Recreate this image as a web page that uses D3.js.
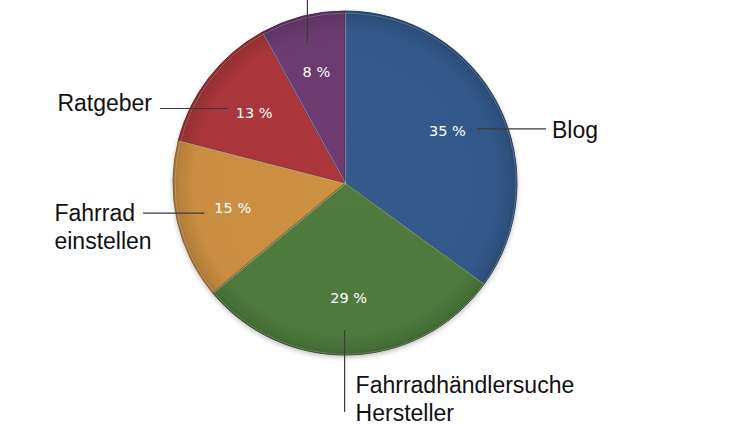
<!DOCTYPE html>
<html><head><meta charset="utf-8">
<script src="https://cdn.jsdelivr.net/npm/d3@7"></script>
<style>
html,body{margin:0;padding:0;background:#fff;}
svg{display:block;}
</style></head>
<body>
<svg id="chart" width="736" height="425"></svg>
<script>
// ---- data ----
const categories = ["Blog", "Fahrradhändlersuche\nHersteller", "Fahrrad\neinstellen", "Ratgeber", ""];
const values = [35, 29, 15, 13, 8];
const percentLabels = ["35 %", "29 %", "15 %", "13 %", "8 %"];
// ---- styles ----
const baseColors = ["#33598a", "#4e7a3d", "#c98e41", "#a9363a", "#6c3b70"];
const leaderDir = ["right", "down", "left", "left", "up"];
const leaderOuter = [29, 57, 30, 13, 60];
const leaderGap = [11, 24, 10, 7, 21];

const W = 736, H = 425;
const cx = 345, cy = 183, R = 172;
const svg = d3.select("#chart");
const defs = svg.append("defs");

const pie = d3.pie().value(d => d).sort(null);
const arcs = pie(values);
const arc = d3.arc().innerRadius(0).outerRadius(R);
const labelArc = d3.arc().innerRadius(115).outerRadius(115);

// gradients (in the slice group's own coordinates, centred on the pie)
baseColors.forEach((c, i) => {
  const g = defs.append("radialGradient").attr("id", "g" + i)
    .attr("gradientUnits", "userSpaceOnUse")
    .attr("cx", 0).attr("cy", 0).attr("r", R);
  const col = d3.color(c);
  g.append("stop").attr("offset", "0%").attr("stop-color", col.brighter(0.05).formatHex());
  g.append("stop").attr("offset", "88%").attr("stop-color", col.formatHex());
  g.append("stop").attr("offset", "97%").attr("stop-color", col.darker(0.3).formatHex());
  g.append("stop").attr("offset", "100%").attr("stop-color", col.darker(0.65).formatHex());
});
const sh = defs.append("filter").attr("id", "shadow")
  .attr("color-interpolation-filters", "sRGB")
  .attr("x", "-10%").attr("y", "-10%").attr("width", "120%").attr("height", "120%");
sh.append("feGaussianBlur").attr("in", "SourceAlpha").attr("stdDeviation", 2.5);
sh.append("feOffset").attr("dx", 0).attr("dy", 2).attr("result", "b");
sh.append("feComponentTransfer").append("feFuncA").attr("type", "linear").attr("slope", 0.25);
const m = sh.append("feMerge");
m.append("feMergeNode");
m.append("feMergeNode").attr("in", "SourceGraphic");

const g = svg.append("g").attr("transform", `translate(${cx},${cy})`);
const slices = g.append("g").attr("filter", "url(#shadow)");
slices.selectAll("path.slice").data(arcs).join("path")
  .attr("class", "slice")
  .attr("d", arc)
  .attr("fill", (d, i) => `url(#g${i})`)
  .attr("stroke", (d, i) => d3.color(baseColors[i]).darker(1.1).formatHex())
  .attr("stroke-width", 1);
// light inner highlight lines along slice edges
slices.selectAll("path.hl").data(arcs).join("path")
  .attr("class", "hl")
  .attr("d", d3.arc().innerRadius(0).outerRadius(R - 1.5))
  .attr("fill", "none")
  .attr("stroke", "rgba(255,255,255,0.2)")
  .attr("stroke-width", 1)
  .attr("transform", "translate(0.6,0.6)");

// percent labels
g.selectAll("text.pct").data(arcs).join("text")
  .attr("class", "pct")
  .attr("x", d => labelArc.centroid(d)[0])
  .attr("y", d => labelArc.centroid(d)[1])
  .attr("text-anchor", "middle")
  .attr("dominant-baseline", "central")
  .attr("fill", "#fff")
  .attr("font-family", "'DejaVu Sans', 'Open Sans', sans-serif")
  .attr("font-size", 14.5)
  .text((d, i) => percentLabels[i]);

// leader lines and category labels
const pctBox = [];
g.selectAll("text.pct").each(function (d, i) { pctBox[i] = this.getBBox(); });

const fontSize = 23, lineH = 28;
arcs.forEach((d, i) => {
  const b = pctBox[i];
  const [lx, ly] = labelArc.centroid(d);
  let x1, y1, x2, y2;
  const dir = leaderDir[i];
  if (dir === "right") { x1 = b.x + b.width + leaderGap[i]; y1 = y2 = ly - 2; x2 = R + leaderOuter[i]; }
  else if (dir === "left") { x1 = b.x - leaderGap[i]; y1 = y2 = ly + (i === 2 ? 5 : -4); x2 = -(R + leaderOuter[i]); }
  else if (dir === "down") { x1 = x2 = lx - 4; y1 = b.y + b.height + leaderGap[i]; y2 = R + leaderOuter[i]; }
  else { x1 = x2 = lx - 9; y1 = b.y - leaderGap[i]; y2 = -(R + leaderOuter[i]); }
  g.append("line").attr("x1", x1).attr("y1", y1).attr("x2", x2).attr("y2", y2)
    .attr("stroke", "#3a3a3a").attr("stroke-width", 1.2);
  const lines = categories[i].split("\n").filter(s => s.length);
  if (!lines.length) return;
  const t = g.append("text")
    .attr("font-family", "'Liberation Sans', Arial, Helvetica, sans-serif")
    .attr("font-size", fontSize).attr("fill", "#111");
  lines.forEach((s, k) => t.append("tspan").text(s));
  let tx, ty;
  if (dir === "right") { tx = x2 + 6; ty = y2 + 9; }
  else if (dir === "left") {
    const w = t.select("tspan").node().getComputedTextLength();
    tx = x2 - 8 - w; ty = y2 + (lines.length > 1 ? 8 : 2);
  } else if (dir === "down") { tx = x2 + 11; ty = y2 - 19; }
  else { tx = x2 + 8; ty = y2 - 10; }
  t.selectAll("tspan").attr("x", tx).attr("y", (s, k) => ty + k * lineH);
});
</script>
</body></html>
